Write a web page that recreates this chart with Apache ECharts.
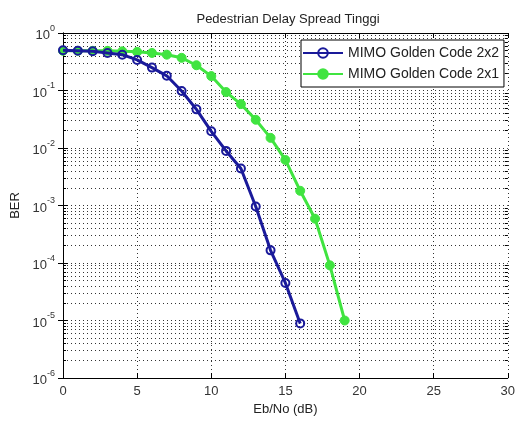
<!DOCTYPE html>
<html>
<head>
<meta charset="utf-8">
<script src="https://cdn.jsdelivr.net/npm/echarts@6/dist/echarts.min.js"></script>
<style>html,body{margin:0;padding:0;background:#fff;}#c{width:518px;height:421px;}</style>
</head>
<body>
<div id="c"></div>
<script>
var ebno2x2 = [0,1,2,3,4,5,6,7,8,9,10,11,12,13,14,15,16];
var ber2x2 = [0.5,0.49,0.48,0.45,0.42,0.34,0.25,0.18,0.098,0.047,0.0195,0.0089,0.0044,0.00096,0.000166,0.000045,0.0000089];
var ebno2x1 = [0,1,2,3,4,5,6,7,8,9,10,11,12,13,14,15,16,17,18,19];
var ber2x1 = [0.49,0.49,0.49,0.49,0.48,0.47,0.45,0.42,0.37,0.275,0.178,0.094,0.058,0.031,0.015,0.0062,0.0018,0.00059,0.000091,0.00001];
var seriesNames = ['MIMO Golden Code 2x2','MIMO Golden Code 2x1'];
var xTicks = [0,5,10,15,20,25,30];
var decadeExps = [-6,-5,-4,-3,-2,-1];
var minorMult = [2,3,4,5,6,7,8,9];

var FONT = '"Liberation Sans", Arial, sans-serif';
var minorVals = [];
decadeExps.forEach(function(e){
  minorMult.forEach(function(m){ minorVals.push(m*Math.pow(10,e)); });
});
var majorVals = [1e-6,1e-5,1e-4,1e-3,1e-2,1e-1,1];

function pairs(xs, ys){ return xs.map(function(x,i){ return [x, ys[i]]; }); }

var dotted = {color:'#333', width:1, type:[1,3]};
var chart = echarts.init(document.getElementById('c'));
chart.setOption({
  backgroundColor:'#fff',
  animation:false,
  title:{text:'Pedestrian Delay Spread Tinggi', left:283, top:8, textAlign:'center',
    textStyle:{fontFamily:FONT, fontSize:13, fontWeight:'normal', color:'#222'}},
  grid:{left:63, right:10, top:33, bottom:38},
  legend:{orient:'vertical', left:301, top:40, padding:[6,5,6,1], itemGap:7,
    backgroundColor:'#fff', borderColor:'#000', borderWidth:1, borderRadius:0,
    itemWidth:40, itemHeight:12,
    textStyle:{fontFamily:FONT, fontSize:14, color:'#222'},
    data:seriesNames},
  xAxis:[{type:'value', min:0, max:30, interval:5, position:'bottom',
    name:'Eb/No (dB)', nameLocation:'middle', nameGap:25,
    nameTextStyle:{fontFamily:FONT, fontSize:13, color:'#222'},
    axisLine:{lineStyle:{color:'#000'}},
    axisTick:{inside:true, length:5, lineStyle:{color:'#000'}},
    axisLabel:{fontFamily:FONT, fontSize:13, color:'#333', margin:7,
      formatter:function(v){ return xTicks.indexOf(v)>=0 ? String(v) : ''; }},
    splitLine:{show:true, lineStyle:dotted}},
   {type:'value', min:0, max:30, interval:5, position:'top',
    axisLine:{lineStyle:{color:'#000'}},
    axisTick:{inside:true, length:5, lineStyle:{color:'#000'}},
    axisLabel:{show:false}, splitLine:{show:false}}],
  yAxis:[{type:'log', logBase:10, min:1e-6, max:1, interval:1, position:'left',
    name:'BER', nameLocation:'middle', nameGap:36,
    nameTextStyle:{fontFamily:FONT, fontSize:13, color:'#222'},
    axisLine:{lineStyle:{color:'#000'}},
    axisTick:{inside:true, length:5, lineStyle:{color:'#000'}},
    axisLabel:{margin:8, formatter:function(v){
        var e = Math.round(Math.log(v)/Math.LN10);
        return '{b|10}{s|' + e + '}';
      },
      rich:{b:{fontFamily:FONT, fontSize:13, color:'#333', verticalAlign:'bottom', lineHeight:18},
            s:{fontFamily:FONT, fontSize:9, color:'#333', verticalAlign:'top', lineHeight:18}}},
    splitLine:{show:true, lineStyle:dotted}},
   {type:'log', logBase:10, min:1e-6, max:1, position:'right',
    axisLine:{lineStyle:{color:'#000'}},
    axisTick:{inside:true, length:5, customValues:majorVals, lineStyle:{color:'#000'}},
    axisLabel:{show:false, customValues:majorVals}, splitLine:{show:false}},
   {type:'log', logBase:10, min:1e-6, max:1, position:'left',
    axisLine:{show:false},
    axisTick:{show:true, inside:true, length:3, customValues:minorVals, lineStyle:{color:'#000'}},
    axisLabel:{show:false, customValues:minorVals},
    splitLine:{show:true, lineStyle:dotted}},
   {type:'log', logBase:10, min:1e-6, max:1, position:'right',
    axisLine:{show:false},
    axisTick:{show:true, inside:true, length:3, customValues:minorVals, lineStyle:{color:'#000'}},
    axisLabel:{show:false, customValues:minorVals},
    splitLine:{show:false}}],
  series:[
    {name:seriesNames[0], type:'line', xAxisIndex:0, yAxisIndex:0,
     data:pairs(ebno2x2, ber2x2), z:4,
     lineStyle:{color:'#1a1a9a', width:3},
     symbol:'circle', symbolSize:8,
     itemStyle:{color:'rgba(255,255,255,0)', borderColor:'#1a1a9a', borderWidth:2}},
    {name:seriesNames[1], type:'line', xAxisIndex:0, yAxisIndex:0,
     data:pairs(ebno2x1, ber2x1), z:3,
     lineStyle:{color:'#40e440', width:3},
     symbol:'circle', symbolSize:9,
     itemStyle:{color:'#40e440', borderColor:'#40e440', borderWidth:1}}
  ]
});
</script>
</body>
</html>
